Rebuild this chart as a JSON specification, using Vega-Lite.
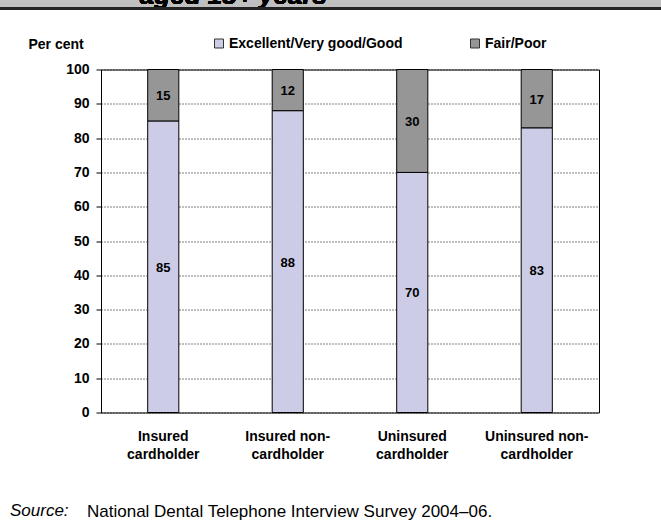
{
  "$schema": "https://vega.github.io/schema/vega-lite/v6.json",
  "width": 498,
  "height": 343,
  "autosize": {"type": "none"},
  "padding": {"left": 101, "top": 69.5, "right": 62, "bottom": 107.5},
  "background": "white",
  "config": {
    "font": "Liberation Sans",
    "view": {"stroke": "black", "strokeWidth": 1}
  },
  "title": {
    "text": "Source:",
    "orient": "bottom",
    "anchor": "start",
    "frame": "group",
    "font": "Liberation Sans",
    "fontStyle": "italic",
    "fontWeight": "normal",
    "fontSize": 17,
    "color": "black",
    "baseline": "alphabetic",
    "offset": 0,
    "dx": -91,
    "dy": -3
  },
  "data": {
    "values": [
      {"group": "Insured cardholder", "status": "Excellent/Very good/Good", "value": 85, "order": 1},
      {"group": "Insured cardholder", "status": "Fair/Poor", "value": 15, "order": 2},
      {"group": "Insured non-cardholder", "status": "Excellent/Very good/Good", "value": 88, "order": 1},
      {"group": "Insured non-cardholder", "status": "Fair/Poor", "value": 12, "order": 2},
      {"group": "Uninsured cardholder", "status": "Excellent/Very good/Good", "value": 70, "order": 1},
      {"group": "Uninsured cardholder", "status": "Fair/Poor", "value": 30, "order": 2},
      {"group": "Uninsured non-cardholder", "status": "Excellent/Very good/Good", "value": 83, "order": 1},
      {"group": "Uninsured non-cardholder", "status": "Fair/Poor", "value": 17, "order": 2}
    ]
  },
  "layer": [
    {
      "mark": {"type": "bar", "stroke": "black", "strokeWidth": 1},
      "encoding": {
        "x": {
          "field": "group",
          "type": "nominal",
          "sort": null,
          "scale": {"paddingInner": 0.75, "paddingOuter": 0.375},
          "axis": {
            "title": "National Dental Telephone Interview Survey 2004–06.",
            "titleX": -14.5,
            "titleY": 103.5,
            "titleAlign": "left",
            "titleBaseline": "alphabetic",
            "titleFontSize": 17,
            "titleFontWeight": "normal",
            "titleColor": "black",
            "labelAngle": 0,
            "labelFontSize": 14,
            "labelFontWeight": "bold",
            "labelColor": "black",
            "labelLineHeight": 18,
            "labelPadding": 17,
            "ticks": false,
            "domain": false,
            "labelExpr": "indexof(datum.label, 'non-') >= 0 ? split(replace(datum.label, 'non-', 'non-|'), '|') : split(datum.label, ' ')"
          }
        },
        "y": {
          "field": "value",
          "type": "quantitative",
          "stack": "zero",
          "scale": {"domain": [0, 100], "nice": false},
          "axis": {
            "values": [0, 10, 20, 30, 40, 50, 60, 70, 80, 90, 100],
            "labelOverlap": false,
            "grid": true,
            "gridColor": "black",
            "gridDash": [1, 2],
            "gridWidth": 1,
            "gridOpacity": 1,
            "domainColor": "black",
            "tickColor": "black",
            "tickSize": 5,
            "labelFontSize": 14,
            "labelFontWeight": "bold",
            "labelColor": "black",
            "labelPadding": 7,
            "title": "Per cent",
            "titleAngle": 0,
            "titleX": -73,
            "titleY": -25.5,
            "titleAlign": "left",
            "titleBaseline": "middle",
            "titleFontSize": 14,
            "titleFontWeight": "bold",
            "titleColor": "black"
          }
        },
        "color": {
          "field": "status",
          "type": "nominal",
          "scale": {"domain": ["Excellent/Very good/Good", "Fair/Poor"], "range": ["#CCCCE6", "#969696"]},
          "legend": {
            "orient": "none",
            "legendX": 111,
            "legendY": -33,
            "direction": "horizontal",
            "title": null,
            "symbolType": "square",
            "symbolSize": 81,
            "symbolStrokeColor": "#333333",
            "symbolStrokeWidth": 1,
            "labelFontSize": 14,
            "labelFontWeight": "bold",
            "labelColor": "black",
            "labelOffset": 3,
            "labelLimit": 400,
            "columnPadding": 65,
            "padding": 0
          }
        },
        "order": {"field": "order"}
      }
    },
    {
      "transform": [
        {"stack": "value", "groupby": ["group"], "sort": [{"field": "order", "order": "ascending"}], "as": ["v0", "v1"]},
        {"calculate": "(datum.v0 + datum.v1) / 2", "as": "mid"}
      ],
      "mark": {"type": "text", "fontWeight": "bold", "fontSize": 13, "color": "black", "dy": 1},
      "encoding": {
        "x": {"field": "group", "type": "nominal", "sort": null, "scale": {"paddingInner": 0.75, "paddingOuter": 0.375}, "axis": null},
        "y": {"field": "mid", "type": "quantitative", "scale": {"domain": [0, 100], "nice": false}, "axis": null},
        "text": {"field": "value"}
      }
    },
    {
      "mark": {"type": "rect", "color": "#C0C0C0"},
      "encoding": {
        "x": {"datum": -0.3, "type": "quantitative", "scale": {"domain": [0, 1]}, "axis": null},
        "x2": {"datum": 1.2},
        "y": {"datum": 118.2, "type": "quantitative", "scale": {"domain": [0, 100], "nice": false}, "axis": null},
        "y2": {"datum": 125}
      }
    },
    {
      "mark": {"type": "text", "align": "left", "baseline": "alphabetic", "fontSize": 26, "fontWeight": "bold", "fontStyle": "italic", "color": "black"},
      "encoding": {
        "x": {"datum": 0.078, "type": "quantitative", "scale": {"domain": [0, 1]}, "axis": null},
        "y": {"datum": 119.1, "type": "quantitative", "scale": {"domain": [0, 100], "nice": false}, "axis": null},
        "text": {"value": "aged 18+ years"}
      }
    },
    {
      "mark": {"type": "rule", "color": "#222222", "strokeWidth": 3},
      "encoding": {
        "x": {"datum": -0.3, "type": "quantitative", "scale": {"domain": [0, 1]}, "axis": null},
        "x2": {"datum": 1.2},
        "y": {"datum": 117.8, "type": "quantitative", "scale": {"domain": [0, 100], "nice": false}, "axis": null}
      }
    }
  ],
  "resolve": {"scale": {"x": "independent"}, "axis": {"y": "independent"}}
}
